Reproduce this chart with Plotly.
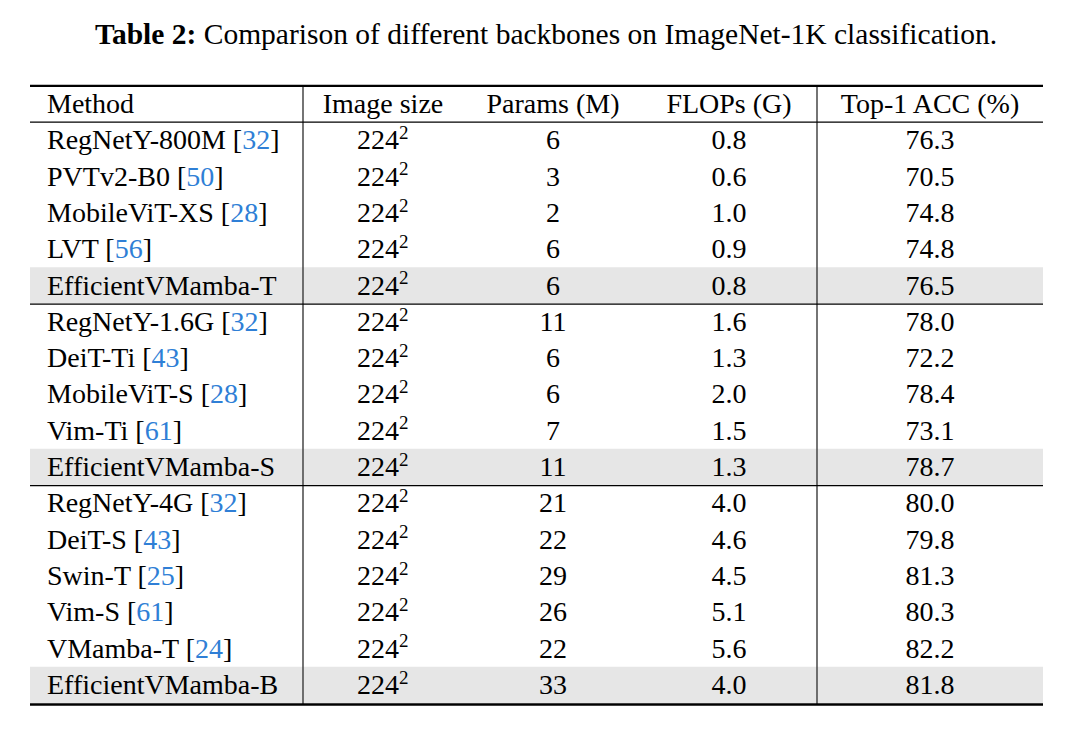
import plotly.graph_objects as go

# ---------------- data ----------------
title_bold = "Table 2:"
title_rest = "Comparison of different backbones on ImageNet-1K classification."
headers = ["Method", "Image size", "Params (M)", "FLOPs (G)", "Top-1 ACC (%)"]
methods = ["RegNetY-800M", "PVTv2-B0", "MobileViT-XS", "LVT", "EfficientVMamba-T",
           "RegNetY-1.6G", "DeiT-Ti", "MobileViT-S", "Vim-Ti", "EfficientVMamba-S",
           "RegNetY-4G", "DeiT-S", "Swin-T", "Vim-S", "VMamba-T", "EfficientVMamba-B"]
refs = ["32", "50", "28", "56", "", "32", "43", "28", "61", "",
        "32", "43", "25", "61", "24", ""]
image_base = ["224"] * 16
image_exp = ["2"] * 16
params = ["6", "3", "2", "6", "6", "11", "6", "6", "7", "11",
          "21", "22", "29", "26", "22", "33"]
flops = ["0.8", "0.6", "1.0", "0.9", "0.8", "1.6", "1.3", "2.0", "1.5", "1.3",
         "4.0", "4.6", "4.5", "5.1", "5.6", "4.0"]
acc = ["76.3", "70.5", "74.8", "74.8", "76.5", "78.0", "72.2", "78.4", "73.1", "78.7",
       "80.0", "79.8", "81.3", "80.3", "82.2", "81.8"]
highlight_rows = [4, 9, 15]
group_ends = [4, 9]

# ---------------- layout constants ----------------
PAGE_W, PAGE_H = 1081, 733
OFF = 8  # browser body margin
W, H = PAGE_W - 2 * OFF, PAGE_H - 2 * OFF
FONT = "Liberation Serif"
FS = 28
FS_EXP = 19
FS_TITLE = 29.5
REF_COLOR = "#2f7fd6"
X_LEFT, X_RIGHT = 30, 1043
X_METHOD = 47
X_IMG_BASE_RIGHT = 399
X_IMG_EXP_LEFT = 399
X_COLS = [383, 553, 729, 930]
V_LINES = [303, 817]
ROW0 = 140.3
ROW_H = 36.3
TEXT_DY = 2
EXP_DY = -8
HEADER_Y = ROW0 - ROW_H
TOP_RULE = HEADER_Y - ROW_H / 2
HEAD_RULE = ROW0 - ROW_H / 2
n = len(methods)
BOTTOM_RULE = ROW0 + (n - 1) * ROW_H + ROW_H / 2 + 1.5

row_y = [ROW0 + i * ROW_H for i in range(n)]
text_y = [y + TEXT_DY for y in row_y]

fig = go.Figure()

method_text = []
for m, r in zip(methods, refs):
    if r:
        method_text.append(f"{m} [<span style='color:{REF_COLOR}'>{r}</span>]")
    else:
        method_text.append(m)

def text_trace(x, y, txt, pos, size=FS):
    return go.Scatter(
        x=x, y=y, mode="text", text=txt, textposition=pos,
        textfont=dict(family=FONT, size=size, color="black"),
        hoverinfo="skip", showlegend=False)

fig.add_trace(text_trace([X_METHOD] * n, text_y, method_text, "middle right"))

# image size: base + exponent
fig.add_trace(text_trace([X_IMG_BASE_RIGHT] * n, text_y, image_base, "middle left"))
fig.add_trace(text_trace([X_IMG_EXP_LEFT] * n, [y + EXP_DY for y in text_y],
                         image_exp, "middle right", size=FS_EXP))

for xc, vals in zip(X_COLS[1:], [params, flops, acc]):
    fig.add_trace(text_trace([xc] * n, text_y, vals, "middle center"))

fig.add_trace(text_trace([X_METHOD], [HEADER_Y + TEXT_DY], [headers[0]], "middle right"))
fig.add_trace(text_trace(X_COLS, [HEADER_Y + TEXT_DY] * 4, headers[1:], "middle center"))

shapes = []
for i in highlight_rows:
    shapes.append(dict(type="rect", xref="x", yref="y", layer="below",
                       x0=X_LEFT, x1=X_RIGHT,
                       y0=row_y[i] - ROW_H / 2, y1=row_y[i] + ROW_H / 2,
                       fillcolor="#e6e6e6", line=dict(width=0)))
for xv in V_LINES:
    shapes.append(dict(type="line", xref="x", yref="y", x0=xv, x1=xv,
                       y0=TOP_RULE, y1=BOTTOM_RULE,
                       line=dict(color="#3a3a3a", width=1.4)))
shapes.append(dict(type="line", xref="x", yref="y", x0=X_LEFT, x1=X_RIGHT,
                   y0=TOP_RULE, y1=TOP_RULE, line=dict(color="black", width=2.4)))
shapes.append(dict(type="line", xref="x", yref="y", x0=X_LEFT, x1=X_RIGHT,
                   y0=HEAD_RULE, y1=HEAD_RULE, line=dict(color="black", width=1.3)))
for g in group_ends:
    yv = row_y[g] + ROW_H / 2 + 0.5
    shapes.append(dict(type="line", xref="x", yref="y", x0=X_LEFT, x1=X_RIGHT,
                       y0=yv, y1=yv, line=dict(color="black", width=1.3)))
shapes.append(dict(type="line", xref="x", yref="y", x0=X_LEFT, x1=X_RIGHT,
                   y0=BOTTOM_RULE, y1=BOTTOM_RULE, line=dict(color="black", width=2.4)))

fig.update_layout(
    width=W, height=H,
    margin=dict(l=0, r=0, t=0, b=0),
    paper_bgcolor="white", plot_bgcolor="white",
    xaxis=dict(range=[OFF, OFF + W], visible=False, fixedrange=True),
    yaxis=dict(range=[OFF + H, OFF], visible=False, fixedrange=True),
    shapes=shapes,
    annotations=[dict(
        x=546, y=34, xref="x", yref="y", showarrow=False,
        text=f"<b>{title_bold}</b> {title_rest}",
        font=dict(family=FONT, size=FS_TITLE, color="black"),
        xanchor="center", yanchor="middle")],
)

fig.write_html("out.html")
